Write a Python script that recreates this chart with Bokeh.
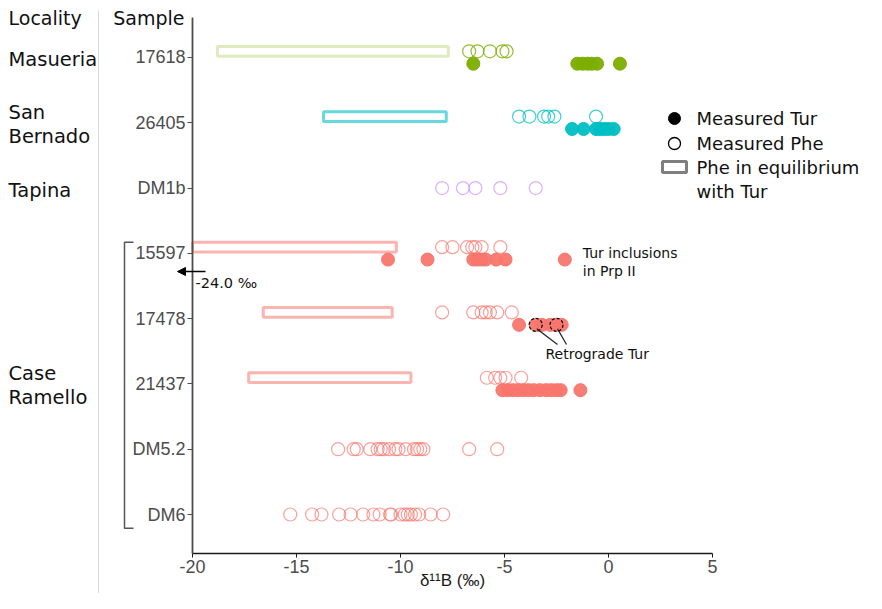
import numpy as np
from bokeh.plotting import figure
from bokeh.models import Range1d, FixedTicker, Arrow, NormalHead
from bokeh.core.properties import value
from bokeh.embed import file_html
from bokeh.resources import INLINE

# ---------------- data ----------------
samples = ["17618", "26405", "DM1b", "15597", "17478", "21437", "DM5.2", "DM6"]
localities = ["Masueria", "San Bernado", "Tapina", "Case Ramello"]
locality_samples = [["17618"], ["26405"], ["DM1b"],
                    ["15597", "17478", "21437", "DM5.2", "DM6"]]
x_ticks = [-20, -15, -10, -5, 0, 5]

# measured phengite (open circles)
phe_17618 = [-6.7, -6.3, -5.7, -5.1, -4.9]
phe_26405 = [-4.3, -3.8, -3.1, -2.9, -2.6, -0.6]
phe_DM1b = [-8.0, -7.0, -6.4, -5.2, -3.5]
phe_15597 = [-8.0, -7.5, -6.8, -6.55, -6.4, -6.1, -5.2]
phe_17478 = [-8.0, -6.5, -6.1, -5.9, -5.7, -5.35, -4.65]
phe_21437 = [-5.85, -5.45, -5.2, -4.95, -4.2]
phe_DM52 = [-13.0, -12.25, -12.1, -11.45, -11.1, -10.95, -10.8, -10.55, -10.25,
            -10.1, -9.75, -9.35, -9.2, -9.05, -8.9, -6.7, -5.35]
phe_DM6 = [-15.3, -14.25, -13.8, -12.95, -12.4, -11.8, -11.3, -11.0, -10.5,
           -10.45, -10.0, -9.8, -9.65, -9.5, -9.3, -9.1, -8.55, -7.95]

# measured tourmaline (filled circles)
tur_17618 = [-6.5, -1.5, -1.25, -1.0, -0.8, -0.55, 0.55]
tur_26405 = [-1.75, -1.2, -0.6, -0.4, -0.2, 0.0, 0.25]
tur_15597 = [-10.6, -8.7, -6.5, -6.3, -6.1, -5.9, -5.4, -4.95]
tur_17478 = [-4.3, -3.5, -3.2, -2.8, -2.5, -2.25]
tur_21437 = [-5.1, -4.85, -4.6, -4.35, -4.1, -3.85, -3.6, -3.3, -3.0, -2.75,
             -2.5, -2.3, -1.35]
incl_15597 = [-2.1]          # Tur inclusions in Prp II
retro_17478 = [-3.5, -2.5]   # retrograde Tur

# phengite in equilibrium with Tur (range bars)
bar_17618 = [-18.8, -7.7]
bar_26405 = [-13.7, -7.8]
bar_15597 = [-24.0, -10.2]
bar_17478 = [-16.6, -10.4]
bar_21437 = [-17.3, -9.5]

phe = {"17618": phe_17618, "26405": phe_26405, "DM1b": phe_DM1b,
       "15597": phe_15597, "17478": phe_17478, "21437": phe_21437,
       "DM5.2": phe_DM52, "DM6": phe_DM6}
tur = {"17618": tur_17618, "26405": tur_26405, "15597": tur_15597,
       "17478": tur_17478, "21437": tur_21437}
bars = {"17618": bar_17618, "26405": bar_26405, "15597": bar_15597,
        "17478": bar_17478, "21437": bar_21437}

# ---------------- style ----------------
GREEN, CYAN, PURPLE, SALMON = "#7CAE00", "#00BFC4", "#C77CFF", "#F8766D"
colors = {"17618": GREEN, "26405": CYAN, "DM1b": PURPLE, "15597": SALMON,
          "17478": SALMON, "21437": SALMON, "DM5.2": SALMON, "DM6": SALMON}
open_alpha = {GREEN: 0.8, CYAN: 0.75, PURPLE: 0.6, SALMON: 0.7}
bar_alpha = {GREEN: 0.25, CYAN: 0.6, SALMON: 0.55}

W, H = 866, 593
# pixel (picture coords) -> data helpers
def dx(px):
    return (px - 608) / 20.8

def dy(py):
    return (514 - py) / 65.286

rows = {s: len(samples) - 1 - i for i, s in enumerate(samples)}
OFF = 0.095
BAR_H = 0.15

p = figure(width=W, height=H, x_range=Range1d(dx(0), dx(W)),
           y_range=Range1d(dy(H), dy(0)), output_backend="svg",
           toolbar_location=None, min_border=0, min_border_left=0,
           min_border_right=0, min_border_top=0, min_border_bottom=0)
p.outline_line_color = None
p.grid.visible = False
p.background_fill_color = "white"

# ---- range bars ----
bl, br, bt, bb, bc, ba = [], [], [], [], [], []
for s, (lo, hi) in bars.items():
    yc = rows[s] + OFF
    bl.append(max(lo, x_ticks[0])); br.append(hi)
    bt.append(yc + BAR_H / 2); bb.append(yc - BAR_H / 2)
    bc.append(colors[s]); ba.append(bar_alpha[colors[s]])
p.quad(left=bl, right=br, top=bt, bottom=bb, fill_color=None,
       line_color=bc, line_alpha=ba, line_width=3)

# ---- phengite ----
px_, py_, pc_, pa_ = [], [], [], []
for s, vals in phe.items():
    off = OFF if s in tur else 0.0
    for v in vals:
        px_.append(v); py_.append(rows[s] + off)
        pc_.append(colors[s]); pa_.append(open_alpha[colors[s]])
p.scatter(x=px_, y=py_, marker="circle", size=13, fill_color=None,
          line_color=pc_, line_alpha=pa_, line_width=1.2)

# ---- tourmaline ----
tx_, ty_, tc_ = [], [], []
for s, vals in tur.items():
    for v in vals:
        tx_.append(v); ty_.append(rows[s] - OFF); tc_.append(colors[s])
for v in incl_15597:
    tx_.append(v); ty_.append(rows["15597"] - OFF); tc_.append(colors["15597"])
p.scatter(x=tx_, y=ty_, marker="circle", size=13, fill_color=tc_,
          line_color=tc_, fill_alpha=0.95, line_width=1)

ry = [rows["17478"] - OFF] * len(retro_17478)
p.scatter(x=retro_17478, y=ry, marker="circle", size=13, fill_color=None,
          line_color="black", line_dash="3 2", line_width=1.2)

# ---- axes ----
yax = p.yaxis[0]
yax.fixed_location = x_ticks[0]
yax.ticker = FixedTicker(ticks=[rows[s] for s in samples])
yax.major_label_overrides = {rows[s]: s for s in samples}
yax.major_label_text_font = "Liberation Sans"
yax.major_label_text_font_size = "18px"
yax.major_label_text_color = "#4d4d4d"
yax.major_label_standoff = 2
yax.major_tick_out = 5
yax.major_tick_in = 0
yax.minor_tick_out = 0
yax.minor_tick_in = 0
yax.major_tick_line_color = "#4d4d4d"
yax.axis_line_color = "#4d4d4d"
yax.axis_line_width = 1.8
yax.bounds = (dy(553), dy(17))

xax = p.xaxis[0]
xax.fixed_location = dy(553)
xax.ticker = FixedTicker(ticks=x_ticks)
xax.major_label_overrides = {t: str(t) for t in x_ticks}
xax.bounds = (x_ticks[0], x_ticks[-1])
xax.axis_label = "δ¹¹B (‰)"
xax.axis_label_text_font = "Liberation Sans"
xax.axis_label_text_font_size = "17px"
xax.axis_label_text_font_style = "normal"
xax.axis_label_text_color = "#1a1a1a"
xax.axis_label_standoff = -5
xax.major_label_text_font = "Liberation Sans"
xax.major_label_text_font_size = "18px"
xax.major_label_text_color = "#4d4d4d"
xax.major_label_standoff = 2
xax.major_tick_out = 4
xax.major_tick_in = 0
xax.minor_tick_out = 0
xax.minor_tick_in = 0
xax.major_tick_line_color = "#1a1a1a"
xax.axis_line_color = "#1a1a1a"
xax.axis_line_width = 1.6

# ---- left column: headers, localities, bracket, separator ----
FONT = value("DejaVu Sans")
p.text(x=[dx(8)], y=[dy(17)], text=["Locality"], text_font=FONT,
       text_font_size="19px", text_baseline="middle", text_align="left",
       text_color="#111111")
p.text(x=[dx(184)], y=[dy(17)], text=["Sample"], text_font=FONT,
       text_font_size="19px", text_baseline="middle", text_align="right",
       text_color="#111111")

LS = 24 / 65.286
lx, ly, lt = [], [], []
for name, ss in zip(localities, locality_samples):
    yc = np.mean([rows[s] for s in ss]) - 2 / 65.286
    words = name.split(" ")
    n = len(words)
    for k, w in enumerate(words):
        lx.append(dx(8)); ly.append(yc + (n - 1) * LS / 2 - k * LS); lt.append(w)
p.text(x=lx, y=ly, text=lt, text_font=FONT, text_font_size="19.5px",
       text_baseline="middle", text_align="left", text_color="#111111")

grp = locality_samples[-1]
btop = max(rows[s] for s in grp) + 0.17
bbot = min(rows[s] for s in grp) - 0.21
p.line(x=[dx(133), dx(124), dx(124), dx(133)], y=[btop, btop, bbot, bbot],
       line_color="#555555", line_width=1.5)
p.line(x=[dx(98), dx(98)], y=[dy(10), dy(H)], line_color="#d9d9d9",
       line_width=1)

# ---- annotations ----
ANN = value("DejaVu Sans")
p.add_layout(Arrow(end=NormalHead(size=8, fill_color="black", line_color="black"),
                   x_start=dx(205), y_start=dy(271), x_end=dx(177), y_end=dy(271),
                   line_color="black", line_width=1.3))
p.text(x=[dx(195)], y=[dy(282)], text=[f"{bar_15597[0]:.1f} ‰"], text_font=ANN,
       text_font_size="14.5px", text_baseline="middle", text_align="left",
       text_color="#111111")

ty_incl = rows["15597"] - OFF
p.text(x=[incl_15597[0] + 18 / 20.8] * 2,
       y=[ty_incl + 7 / 65.286, ty_incl - 11 / 65.286],
       text=["Tur inclusions", "in Prp II"], text_font=ANN, text_font_size="14px",
       text_baseline="middle", text_align="left", text_color="#111111")

ty_r = rows["17478"] - OFF
p.segment(x0=[retro_17478[0] + 0.05, retro_17478[1] + 0.05],
          y0=[ty_r - 4 / 65.286] * 2,
          x1=[dx(557), dx(566)], y1=[dy(344)] * 2,
          line_color="#222222", line_width=1.2)
p.text(x=[dx(545)], y=[dy(353)], text=["Retrograde Tur"], text_font=ANN,
       text_font_size="14px", text_baseline="middle", text_align="left",
       text_color="#111111")

# ---- legend (drawn) ----
LG = value("DejaVu Sans")
p.scatter(x=[dx(674)], y=[dy(118)], marker="circle", size=12,
          fill_color="black", line_color="black")
p.scatter(x=[dx(674)], y=[dy(143)], marker="circle", size=12,
          fill_color=None, line_color="black", line_width=1.3)
p.quad(left=[dx(662)], right=[dx(686)], top=[dy(161)], bottom=[dy(172)],
       fill_color=None, line_color="#7f7f7f", line_width=3)
p.text(x=[dx(696)] * 4, y=[dy(118), dy(143), dy(167), dy(191)],
       text=["Measured Tur", "Measured Phe", "Phe in equilibrium", "with Tur"],
       text_font=LG, text_font_size="18px", text_baseline="middle",
       text_align="left", text_color="#111111")

open("out.html", "w").write(file_html(p, INLINE))
